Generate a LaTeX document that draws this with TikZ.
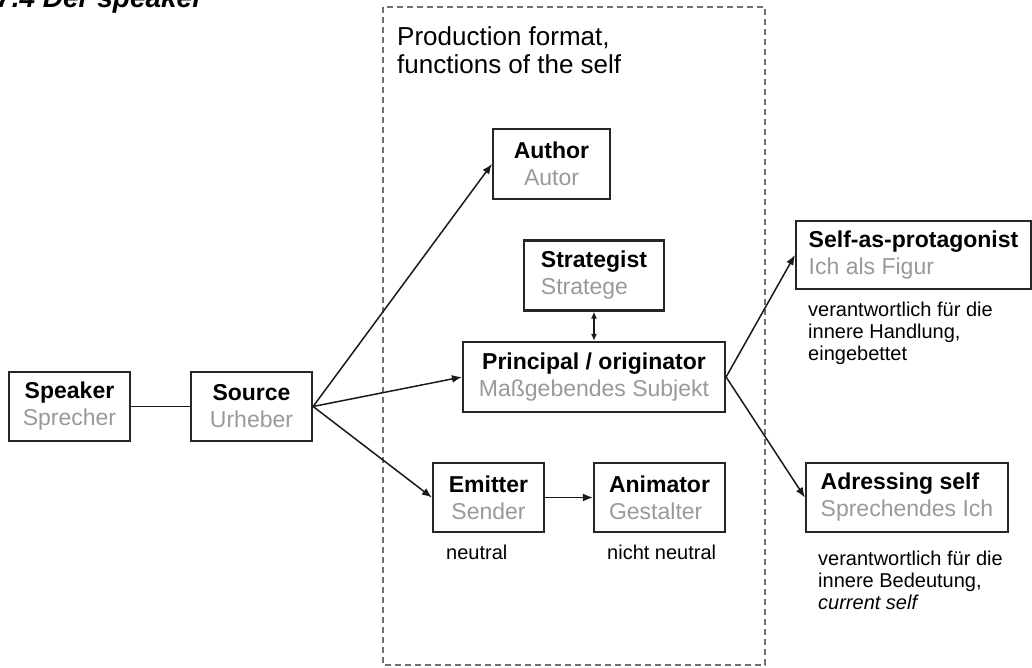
\documentclass[tikz,border=0pt]{standalone}
\usepackage{fontspec}
\setmainfont{Liberation Sans}
\usetikzlibrary{arrows.meta}
\definecolor{subgray}{HTML}{999999}
\definecolor{boxline}{HTML}{262626}
\definecolor{dashgray}{HTML}{707070}
\definecolor{arrowcol}{HTML}{1A1A1A}
\begin{document}
\begin{tikzpicture}[x=1pt,y=-1pt,
  box/.style={draw=boxline, line width=2.2pt, inner sep=0pt,
    font=\fontsize{23}{27}\selectfont, align=center},
  leftbox/.style={box, align=left},
  arr/.style={draw=arrowcol, line width=1.5pt, -{Latex[length=10pt,width=8pt]}},
  plainline/.style={draw=arrowcol, line width=1.5pt},
  dbl/.style={draw=arrowcol, line width=1.5pt,
    {Latex[length=7pt,width=6pt]}-{Latex[length=7pt,width=6pt]}},
  note/.style={font=\fontsize{20}{22}\selectfont, align=left, inner sep=0pt, anchor=north west},
  frame/.style={draw=dashgray, line width=2.8pt, dash pattern=on 6pt off 4pt}]
\useasboundingbox (0,0) rectangle (1032,668);

% title (cut at the top edge, as in the original)
\begin{scope}
\clip (0,0) rectangle (1032,668);
\node[anchor=base west, inner sep=0pt, font=\fontsize{28}{32}\selectfont\bfseries\itshape] (title) at (-4,8) {7.4 Der speaker};
\end{scope}

% dashed frame
\draw[frame] (383,7) rectangle (765,665);
\node[note, font=\fontsize{26}{28.5}\selectfont] (prod) at (397,26) {Production format,\\functions of the self};

% boxes
\node[box, minimum width=121pt, minimum height=69pt] (speaker) at (69.5,406.5) {\textbf{Speaker}\\\textcolor{subgray}{Sprecher}};
\node[box, minimum width=121pt, minimum height=69pt] (source) at (251.5,406.5) {\textbf{Source}\\\textcolor{subgray}{Urheber}};
\node[box, minimum width=117pt, minimum height=70pt] (author) at (551.5,164) {\textbf{Author}\\\textcolor{subgray}{Autor}};
\node[leftbox, minimum width=140pt, minimum height=70pt] (strat) at (594,275.5) {\textbf{Strategist}\\\textcolor{subgray}{Stratege}};
\node[box, minimum width=262pt, minimum height=70pt] (princ) at (594,377) {\textbf{Principal / originator}\\\textcolor{subgray}{Maßgebendes Subjekt}};
\node[box, minimum width=111pt, minimum height=69pt] (emitter) at (488.5,497.5) {\textbf{Emitter}\\\textcolor{subgray}{Sender}};
\node[leftbox, minimum width=131pt, minimum height=69pt] (animator) at (659.5,497.5) {\textbf{Animator}\\\textcolor{subgray}{Gestalter}};
\node[leftbox, minimum width=235pt, minimum height=68pt] (selfp) at (913.5,255) {\textbf{Self-as-protagonist}\\\textcolor{subgray}{Ich als Figur}};
\node[leftbox, minimum width=202pt, minimum height=69pt] (adress) at (907,497.5) {\textbf{Adressing self}\\\textcolor{subgray}{Sprechendes Ich}};

% notes
\node[note, anchor=base west] (neutral) at (446,559) {neutral};
\node[note, anchor=base west] (nneutral) at (607,559) {nicht neutral};
\node[note] (selfnote) at (808,301.5) {verantwortlich für die\\innere Handlung,\\eingebettet};
\node[note] (adrnote) at (818,550.5) {verantwortlich für die\\innere Bedeutung,\\\textit{current self}};

% connectors
\draw[plainline] (speaker.east) -- (source.west);
\draw[arr] (source.east) -- (author.west);
\draw[arr] (source.east) -- (princ.west);
\draw[arr] (source.east) -- (emitter.west);
\draw[arr] (emitter.east) -- (animator.west);
\draw[dbl] (strat.south) -- (princ.north);
\draw[arr] (princ.east) -- (selfp.west);
\draw[arr] (princ.east) -- (adress.west);
\end{tikzpicture}
\end{document}
